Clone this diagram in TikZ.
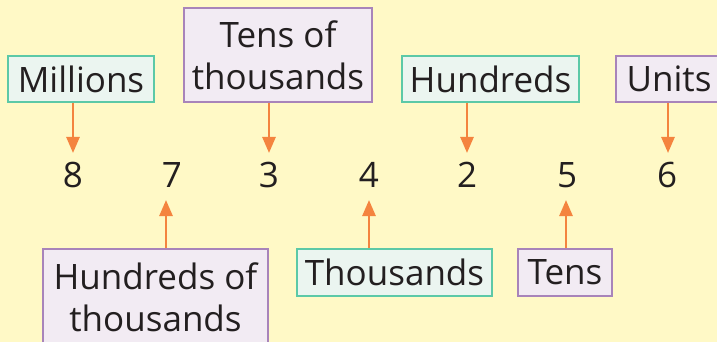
\documentclass[tikz,border=0pt]{standalone}
\usepackage{fontspec}
\setmainfont{Open Sans}
\usetikzlibrary{arrows.meta}
\definecolor{bgc}{HTML}{FFF9C6}
\definecolor{tealb}{HTML}{5CC9A7}
\definecolor{tealf}{HTML}{EBF5F0}
\definecolor{purpb}{HTML}{A884BA}
\definecolor{purpf}{HTML}{F2EBF3}
\definecolor{arrc}{HTML}{F4843F}
\definecolor{txt}{HTML}{231F20}
\tikzset{
  lbl/.style={draw, line width=1.5pt, inner sep=0pt, text=txt, align=center,
    font=\fontsize{35}{42}\selectfont},
  tbox/.style={lbl, draw=tealb, fill=tealf},
  pbox/.style={lbl, draw=purpb, fill=purpf},
  digit/.style={text=txt, font=\fontsize{35}{42}\selectfont, inner sep=0pt},
  arr/.style={draw=arrc, line width=2.6pt, -{Triangle[width=13pt,length=16pt]}}
}
\begin{document}
\begin{tikzpicture}[x=1pt,y=-1pt]
\fill[bgc] (0,0) rectangle (717,342);
\useasboundingbox (0,0) rectangle (717,342);
% top boxes
\node[tbox, minimum width=146pt, minimum height=46pt] (mil) at (81,79) {Millions};
\node[pbox, minimum width=188pt, minimum height=94pt] (tth) at (278,55) {Tens of\\thousands};
\node[tbox, minimum width=177pt, minimum height=46pt] (hun) at (490.5,79) {Hundreds};
\node[pbox, minimum width=106pt, minimum height=46pt] (uni) at (669,79) {Units};
% digits
\node[digit] (d8) at (73,175) {8};
\node[digit] (d7) at (172,175) {7};
\node[digit] (d3) at (269,175) {3};
\node[digit] (d4) at (369,175) {4};
\node[digit] (d2) at (467,175) {2};
\node[digit] (d5) at (567,175) {5};
\node[digit] (d6) at (667,175) {6};
% bottom boxes
\node[pbox, minimum width=225pt, minimum height=96pt] (hth) at (155.5,297) {Hundreds of\\thousands};
\node[tbox, minimum width=195pt, minimum height=47pt] (tho) at (394.5,272.5) {Thousands};
\node[pbox, minimum width=94pt, minimum height=47pt] (ten) at (565,272.5) {Tens};
% arrow coordinates
\coordinate (a8) at (73,153);
\coordinate (a3) at (269,153);
\coordinate (a2) at (467,153);
\coordinate (a6) at (668,153);
\coordinate (a7) at (166,200);
\coordinate (a4) at (369,200);
\coordinate (a5) at (566,200);
\draw[arr] (mil.south -| a8) -- (a8);
\draw[arr] (tth.south -| a3) -- (a3);
\draw[arr] (hun.south -| a2) -- (a2);
\draw[arr] (uni.south -| a6) -- (a6);
\draw[arr] (hth.north -| a7) -- (a7);
\draw[arr] (tho.north -| a4) -- (a4);
\draw[arr] (ten.north -| a5) -- (a5);
\end{tikzpicture}
\end{document}
